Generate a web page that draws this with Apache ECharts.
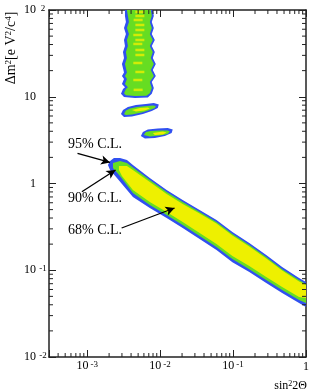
<!DOCTYPE html>
<html><head><meta charset="utf-8">
<script src="https://cdn.jsdelivr.net/npm/echarts@6/dist/echarts.min.js"></script>
<style>html,body{margin:0;padding:0;background:#fff}#c{width:312px;height:392px}</style>
</head><body><div id="c"></div>
<script>
const X_MIN = 3e-4, X_MAX = 1, Y_MIN = 0.01, Y_MAX = 100;
const xMajorExp = [-3, -2, -1, 0];
const yMajorExp = [-2, -1, 0, 1, 2];
const xMinor = [4e-4,5e-4,6e-4,7e-4,8e-4,9e-4, 2e-3,3e-3,4e-3,5e-3,6e-3,7e-3,8e-3,9e-3, 0.02,0.03,0.04,0.05,0.06,0.07,0.08,0.09, 0.2,0.3,0.4,0.5,0.6,0.7,0.8,0.9];
const yMinor = [0.02,0.03,0.04,0.05,0.06,0.07,0.08,0.09, 0.2,0.3,0.4,0.5,0.6,0.7,0.8,0.9, 2,3,4,5,6,7,8,9, 20,30,40,50,60,70,80,90];

// main band (sin^2 2theta, dm^2)
const band95 = [[1.93e-3,1.63],[2.06e-3,1.82],[2.33e-3,1.97],[2.82e-3,1.97],[3.51e-3,1.87],[4.24e-3,1.63],[7.23e-3,1.16],[0.0123,0.841],[0.0204,0.645],[0.0348,0.495],[0.0593,0.379],[0.098,0.276],[0.167,0.206],[0.285,0.150],[0.471,0.109],[0.803,0.0814],[1,0.0733],
  [1,0.0377],[0.803,0.0419],[0.471,0.0547],[0.285,0.0714],[0.167,0.0955],[0.098,0.124],[0.0593,0.171],[0.0348,0.229],[0.0204,0.307],[0.0123,0.400],[7.23e-3,0.522],[4.24e-3,0.699],[2.56e-3,1.16],[2.06e-3,1.43]];
const band90 = [[2.26e-3,1.72],[2.82e-3,1.82],[3.51e-3,1.72],[4.24e-3,1.53],[7.23e-3,1.10],[0.0123,0.798],[0.0204,0.612],[0.0348,0.469],[0.0593,0.360],[0.098,0.262],[0.167,0.195],[0.285,0.142],[0.471,0.103],[0.803,0.0773],[1,0.0695],
  [1,0.0419],[0.803,0.0454],[0.471,0.0592],[0.285,0.0773],[0.167,0.103],[0.098,0.135],[0.0593,0.185],[0.0348,0.249],[0.0204,0.333],[0.0123,0.433],[7.23e-3,0.565],[4.24e-3,0.778],[2.82e-3,1.22],[2.26e-3,1.51]];
const band68 = [[2.73e-3,1.59],[3.51e-3,1.59],[4.24e-3,1.43],[7.23e-3,1.04],[0.0123,0.757],[0.0204,0.581],[0.0348,0.451],[0.0593,0.346],[0.098,0.252],[0.167,0.188],[0.285,0.137],[0.471,0.0993],[0.803,0.0741],[1,0.0676],
  [1,0.0479],[0.803,0.0492],[0.471,0.0641],[0.285,0.0836],[0.167,0.112],[0.098,0.146],[0.0593,0.201],[0.0348,0.269],[0.0204,0.360],[0.0123,0.469],[7.23e-3,0.612],[4.24e-3,0.841],[3.0e-3,1.22],[2.73e-3,1.43]];

// high dm^2 column
const column95 = [[3.30e-3,100],[7.94e-3,100],[8.20e-3,85.3],[7.69e-3,72.8],[8.20e-3,62.1],[7.69e-3,52.9],[8.46e-3,45.1],[7.69e-3,38.5],[8.46e-3,32.8],[7.94e-3,28.0],[8.73e-3,23.9],[7.94e-3,20.3],[8.73e-3,17.3],[7.69e-3,14.8],[8.20e-3,12.6],[7.69e-3,10.8],[6.79e-3,9.8],[4.52e-3,9.68],[3.20e-3,9.93],[2.91e-3,10.8],[3.10e-3,12.3],[3.30e-3,12.9],[3.0e-3,14.0],[3.20e-3,16.0],[3.0e-3,17.3],[3.20e-3,19.0],[3.0e-3,23.9],[3.20e-3,28.0],[3.10e-3,32.8],[3.30e-3,38.5],[3.20e-3,45.1],[3.40e-3,52.9],[3.20e-3,62.1],[3.40e-3,72.8],[3.30e-3,85.3]];
const column90 = [[3.51e-3,100],[7.46e-3,100],[7.69e-3,85.3],[7.23e-3,72.8],[7.69e-3,62.1],[7.23e-3,52.9],[7.94e-3,45.1],[7.23e-3,38.5],[7.94e-3,32.8],[7.46e-3,28.0],[8.20e-3,23.9],[7.46e-3,20.3],[8.20e-3,17.3],[7.23e-3,14.8],[7.69e-3,12.6],[7.23e-3,11.0],[6.5e-3,10.3],[4.52e-3,10.2],[3.40e-3,10.4],[3.20e-3,11.0],[3.40e-3,12.3],[3.62e-3,12.9],[3.30e-3,14.0],[3.51e-3,16.0],[3.30e-3,17.3],[3.51e-3,19.0],[3.30e-3,23.9],[3.51e-3,28.0],[3.40e-3,32.8],[3.62e-3,38.5],[3.51e-3,45.1],[3.74e-3,52.9],[3.51e-3,62.1],[3.74e-3,72.8],[3.62e-3,85.3]];
const columnSpots68 = [[5.28e-3,94.8],[5.28e-3,85.3],[5.0e-3,76.7],[5.28e-3,67.2],[5.28e-3,58.8],[4.95e-3,51.5],[5.28e-3,45.1],[4.95e-3,40.6],[5.28e-3,34.6],[5.28e-3,30.3],[4.95e-3,24.5],[5.28e-3,19.3],[4.95e-3,15.6],[5.0e-3,12.0]];

// islands
const islandA95 = [[2.91e-3,6.32],[3.10e-3,7.03],[3.62e-3,7.62],[4.66e-3,8.04],[6.38e-3,8.25],[8.20e-3,8.47],[9.6e-3,8.15],[9.29e-3,7.41],[7.69e-3,6.85],[5.81e-3,6.32],[4.11e-3,5.91],[3.20e-3,5.85]];
const islandA90 = [[3.20e-3,6.32],[3.40e-3,6.94],[3.86e-3,7.33],[4.81e-3,7.62],[6.58e-3,7.82],[7.94e-3,7.93],[8.73e-3,7.82],[8.46e-3,7.41],[7.23e-3,7.03],[5.62e-3,6.58],[4.11e-3,6.24],[3.40e-3,6.17]];
const islandA68 = [[4.11e-3,7.03],[5.28e-3,7.41],[6.79e-3,7.52],[7.23e-3,7.33],[6.18e-3,6.94],[4.66e-3,6.76]];
const islandB95 = [[5.45e-3,3.53],[5.81e-3,3.93],[6.79e-3,4.19],[9.29e-3,4.31],[0.0127,4.37],[0.0149,4.19],[0.0144,3.82],[0.0116,3.53],[8.46e-3,3.34],[6.18e-3,3.30]];
const islandB90 = [[5.98e-3,3.62],[6.38e-3,3.93],[7.46e-3,4.03],[9.89e-3,4.08],[0.0127,4.08],[0.0136,3.98],[0.0127,3.72],[9.89e-3,3.57],[7.23e-3,3.48]];
const islandB68 = [[7.94e-3,3.82],[0.0109,3.98],[0.0123,3.87],[0.0109,3.67],[8.46e-3,3.62]];

const arrows = [
  {from:[7.38e-4,2.23], to:[2.06e-3,1.75]},
  {from:[8.47e-4,0.805], to:[2.45e-3,1.43]},
  {from:[2.97e-3,0.307], to:[0.0158,0.522]}
];
const notes = ['95% C.L.', '90% C.L.', '68% C.L.'];

const C95 = '#3050f0', C90 = '#66dd22', C68 = '#eef000';
const FONT = '"Liberation Serif", "Times New Roman", serif';
const AX = '#222';

function poly(pts, color, z) {
  return {type:'custom', coordinateSystem:'cartesian2d', data: pts, z: z, silent:true, clip:true,
    encode:{x:0, y:1},
    renderItem: (params, api) => {
      if (params.dataIndex !== 0) return null;
      return {type:'polygon', shape:{points: pts.map(p => api.coord(p))}, style:{fill: color}};
    }};
}

function expOf(v) {
  const l = Math.log10(v), e = Math.round(l);
  return Math.abs(l - e) < 1e-6 ? e : null;
}

const xRich = {
  b:{fontSize:12, fontFamily:FONT, color:'#000', lineHeight:12, verticalAlign:'bottom'},
  s:{fontSize:9, fontFamily:FONT, color:'#000', lineHeight:9, padding:[0,0,5,2], verticalAlign:'top'},
  one:{fontSize:12, fontFamily:FONT, color:'#000', lineHeight:12, padding:[2,0,0,0]}
};
const yRich = {
  b:{fontSize:12, fontFamily:FONT, color:'#000', lineHeight:12, verticalAlign:'bottom'},
  s:{fontSize:9, fontFamily:FONT, color:'#000', lineHeight:9, padding:[0,0,5,3], width:8, align:'left', verticalAlign:'top'}
};

const tickStyle = {color: AX, width: 1};
function baseAxis(min, max) {
  return {type:'log', logBase:10, min:min, max:max,
    axisLine:{show:true, onZero:false, lineStyle:{color:AX, width:1.5}},
    axisTick:{show:true, inside:true, length:7, lineStyle:tickStyle},
    splitLine:{show:false}, minorTick:{show:false}};
}

const xMinorSeries = {type:'custom', coordinateSystem:'cartesian2d', silent:true, clip:false, z:10,
  data: xMinor.map(v => [v, Y_MIN]),
  renderItem: (params, api) => {
    const v = api.value(0);
    const b = api.coord([v, Y_MIN]), t = api.coord([v, Y_MAX]);
    return {type:'group', children:[
      {type:'line', shape:{x1:b[0], y1:b[1], x2:b[0], y2:b[1]-4}, style:{stroke:AX, lineWidth:1}},
      {type:'line', shape:{x1:t[0], y1:t[1], x2:t[0], y2:t[1]+4}, style:{stroke:AX, lineWidth:1}}
    ]};
  }};
const yMinorSeries = {type:'custom', coordinateSystem:'cartesian2d', silent:true, clip:false, z:10,
  data: yMinor.map(v => [X_MIN, v]),
  renderItem: (params, api) => {
    const v = api.value(1);
    const l = api.coord([X_MIN, v]), r = api.coord([X_MAX, v]);
    return {type:'group', children:[
      {type:'line', shape:{x1:l[0], y1:l[1], x2:l[0]+4, y2:l[1]}, style:{stroke:AX, lineWidth:1}},
      {type:'line', shape:{x1:r[0], y1:r[1], x2:r[0]-4, y2:r[1]}, style:{stroke:AX, lineWidth:1}}
    ]};
  }};

const chart = echarts.init(document.getElementById('c'), null, {renderer:'canvas'});
chart.setOption({
  animation:false,
  backgroundColor:'#fff',
  grid:{left:49, right:5, top:10, bottom:35, containLabel:false},
  xAxis:[
    Object.assign(baseAxis(X_MIN, X_MAX), {position:'bottom',
      axisLabel:{margin:3, rich:xRich, formatter:(v) => {
        const e = expOf(v); if (e === null || !xMajorExp.includes(e)) return '';
        return e === 0 ? '{one|1}' : '{b|10}{s|' + e + '}';
      }}}),
    Object.assign(baseAxis(X_MIN, X_MAX), {position:'top', axisLabel:{show:false}})
  ],
  yAxis:[
    Object.assign(baseAxis(Y_MIN, Y_MAX), {position:'left',
      axisLabel:{margin:2, rich:yRich, formatter:(v) => {
        const e = expOf(v); if (e === null || !yMajorExp.includes(e)) return '';
        if (e === 0) return '{b|1}{s| }';
        if (e === 1) return '{b|10}{s| }';
        return '{b|10}{s|' + e + '}';
      }}}),
    Object.assign(baseAxis(Y_MIN, Y_MAX), {position:'right', axisLabel:{show:false}})
  ],
  series:[
    poly(band95, C95, 2), poly(column95, C95, 2), poly(islandA95, C95, 2), poly(islandB95, C95, 2),
    poly(band90, C90, 3), poly(column90, C90, 3), poly(islandA90, C90, 3), poly(islandB90, C90, 3),
    poly(band68, C68, 4), poly(islandA68, C68, 4), poly(islandB68, C68, 4),
    {type:'scatter', data: columnSpots68, symbol:'rect', symbolSize:[9,2.5], itemStyle:{color:C68}, z:5, silent:true,
      markLine:{silent:true, symbol:['none','arrow'], symbolSize:[7,9], label:{show:false},
        lineStyle:{color:'#000', width:1.3, type:'solid'}, emphasis:{disabled:true},
        data: arrows.map(a => [{coord:a.from}, {coord:a.to}])}},
    xMinorSeries, yMinorSeries
  ],
  graphic:[
    {type:'text', x:68, y:144, style:{text:notes[0], fontSize:14, fontFamily:FONT, fill:'#000', align:'left', verticalAlign:'middle'}},
    {type:'text', x:68, y:198.5, style:{text:notes[1], fontSize:14, fontFamily:FONT, fill:'#000', align:'left', verticalAlign:'middle'}},
    {type:'text', x:68, y:230, style:{text:notes[2], fontSize:14, fontFamily:FONT, fill:'#000', align:'left', verticalAlign:'middle'}},
    {type:'text', x:307, y:386, style:{text:'sin{s|2}2Θ', fontSize:12, fontFamily:FONT, fill:'#000', align:'right', verticalAlign:'middle',
      rich:{s:{fontSize:8, fontFamily:FONT, fill:'#000', padding:[0,0,5,0], verticalAlign:'top'}}}},
    {type:'text', x:11, y:48, rotation:Math.PI/2, style:{text:'Δm{s|2}[e V{s|2}/c{s|4}]', fontSize:14, fontFamily:FONT, fill:'#000', align:'center', verticalAlign:'middle',
      rich:{s:{fontSize:9, fontFamily:FONT, fill:'#000', padding:[0,0,5,0], verticalAlign:'top'}}}}
  ]
});
</script></body></html>
